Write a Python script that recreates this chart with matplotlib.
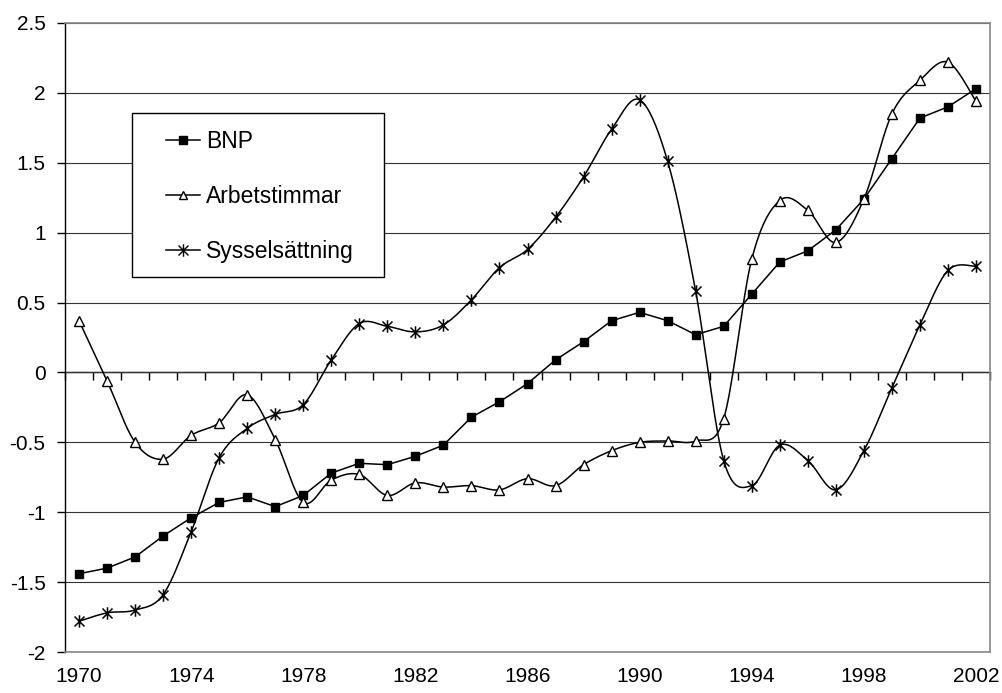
import numpy as np
import matplotlib
matplotlib.use('Agg')
import matplotlib.pyplot as plt
from matplotlib.path import Path
from matplotlib.patches import Rectangle

plt.rcParams['font.family'] = ['Liberation Sans', 'DejaVu Sans']

years = list(range(1970, 2003))
bnp = [-1.44, -1.40, -1.32, -1.17, -1.04, -0.93, -0.89, -0.96, -0.88, -0.72,
       -0.65, -0.66, -0.60, -0.52, -0.32, -0.21, -0.08, 0.09, 0.22, 0.37,
       0.43, 0.37, 0.27, 0.33, 0.56, 0.79, 0.87, 1.02, 1.24, 1.53,
       1.82, 1.90, 2.03]
arbetstimmar = [0.37, -0.06, -0.50, -0.62, -0.45, -0.36, -0.16, -0.48, -0.93, -0.77,
                -0.73, -0.88, -0.79, -0.82, -0.81, -0.84, -0.76, -0.81, -0.66, -0.56,
                -0.50, -0.49, -0.49, -0.33, 0.81, 1.23, 1.16, 0.93, 1.24, 1.85,
                2.09, 2.22, 1.94]
sysselsattning = [-1.78, -1.72, -1.70, -1.59, -1.14, -0.61, -0.40, -0.30, -0.23, 0.09,
                  0.35, 0.33, 0.29, 0.34, 0.52, 0.75, 0.88, 1.11, 1.40, 1.74,
                  1.95, 1.51, 0.58, -0.63, -0.81, -0.52, -0.63, -0.84, -0.56, -0.11,
                  0.34, 0.73, 0.76]
label_years = [1970, 1974, 1978, 1982, 1986, 1990, 1994, 1998, 2002]


def smooth(x, y, n=20):
    # Excel style smoothed line: bezier segments with catmull-rom controls
    x = np.asarray(x, float)
    y = np.asarray(y, float)
    px = np.concatenate([[x[0]], x, [x[-1]]])
    py = np.concatenate([[y[0]], y, [y[-1]]])
    t = np.linspace(0, 1, n)[:, None]
    xs, ys = [], []
    for i in range(1, len(px) - 2):
        p0 = np.array([px[i - 1], py[i - 1]])
        p1 = np.array([px[i], py[i]])
        p2 = np.array([px[i + 1], py[i + 1]])
        p3 = np.array([px[i + 2], py[i + 2]])
        c1 = p1 + (p2 - p0) / 6
        c2 = p2 - (p3 - p1) / 6
        b = ((1 - t) ** 3 * p1 + 3 * (1 - t) ** 2 * t * c1
             + 3 * (1 - t) * t ** 2 * c2 + t ** 3 * p2)
        xs.append(b[:, 0])
        ys.append(b[:, 1])
    return np.concatenate(xs), np.concatenate(ys)


# Excel "star" marker: an X with a vertical bar
star = Path([(-1, -1), (1, 1), (-1, 1), (1, -1), (0, -1.25), (0, 1.25)],
            [Path.MOVETO, Path.LINETO, Path.MOVETO, Path.LINETO,
             Path.MOVETO, Path.LINETO])

x = np.arange(len(years))

fig = plt.figure(figsize=(10.03, 6.93), dpi=100)
ax = fig.add_axes([65 / 1003, 41 / 693, 925 / 1003, 629 / 693])

ax.set_xlim(-0.5, len(years) - 0.5)
ax.set_ylim(-2, 2.5)
ax.set_yticks(np.arange(-2, 2.51, 0.5))
ax.set_yticklabels(['-2', '-1.5', '-1', '-0.5', '0', '0.5', '1', '1.5', '2', '2.5'])
ax.yaxis.grid(True, color='#333333', linewidth=0.8)
ax.set_axisbelow(True)

for s in ['top', 'right', 'bottom']:
    ax.spines[s].set_color('#888888')
    ax.spines[s].set_linewidth(1.2)
ax.spines['left'].set_color('black')
ax.spines['left'].set_linewidth(1.0)

ax.set_xticks([years.index(y) for y in label_years])
ax.set_xticklabels([str(y) for y in label_years])
ax.tick_params(axis='x', length=0, pad=11, labelsize=15)
ax.tick_params(axis='y', length=6, width=1, pad=8, labelsize=15, direction='out')

# category axis crossing at zero
sec = ax.secondary_xaxis(2 / 4.5)
sec.set_xticks(np.arange(-0.5, len(years), 1.0))
sec.set_xticklabels([])
sec.tick_params(axis='x', length=6, width=1, direction='out', color='black')
sec.spines['bottom'].set_color('black')
sec.spines['bottom'].set_linewidth(1.0)

l1, = ax.plot(x, bnp, color='black', linewidth=1.1, marker='s', markersize=6,
              markerfacecolor='black', label='BNP')
sx, sy = smooth(x, arbetstimmar)
ax.plot(sx, sy, color='black', linewidth=1.1)
ax.plot(x, arbetstimmar, linestyle='none', marker='^', markersize=7,
        markerfacecolor='white', markeredgecolor='black', markeredgewidth=1.0)
sx, sy = smooth(x, sysselsattning)
ax.plot(sx, sy, color='black', linewidth=1.1)
ax.plot(x, sysselsattning, linestyle='none', marker=star, markersize=9,
        markerfacecolor='none', markeredgecolor='black', markeredgewidth=1.1)

h2, = ax.plot([], [], color='black', linewidth=1.1, marker='^', markersize=6,
              markerfacecolor='white', markeredgecolor='black', label='Arbetstimmar')
h3, = ax.plot([], [], color='black', linewidth=1.1, marker=star, markersize=9,
              markerfacecolor='none', markeredgecolor='black', label='Sysselsättning')

# legend box drawn separately so the padding matches
box = Rectangle((132 / 1003, 1 - 277 / 693), 252 / 1003, 164 / 693,
                transform=fig.transFigure, facecolor='white', edgecolor='black',
                linewidth=1.0, zorder=4)
ax.add_artist(box)
box.set_clip_on(False)

leg = ax.legend(handles=[l1, h2, h3], loc='upper left',
                bbox_to_anchor=(166 / 1003, 1 - 130 / 693),
                bbox_transform=fig.transFigure, fontsize=16.5, frameon=False,
                borderpad=0, labelspacing=1.4, handlelength=1.5,
                handletextpad=0.26, borderaxespad=0)
leg.set_zorder(5)

fig.savefig('out.png', dpi=100)
